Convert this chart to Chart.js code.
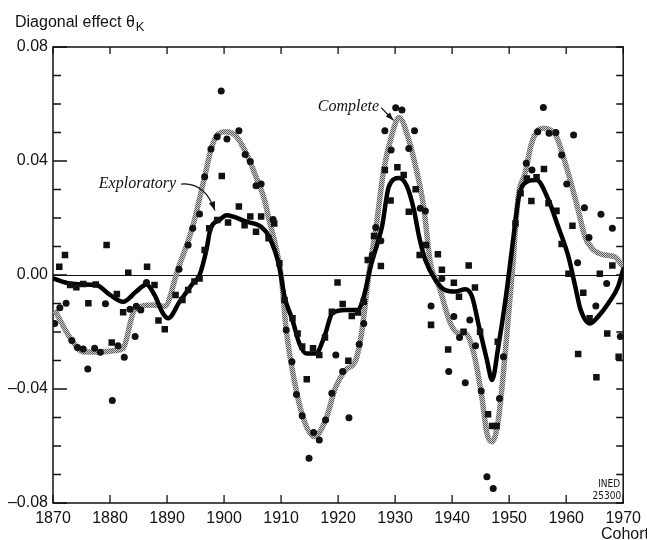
<!DOCTYPE html>
<html>
<head>
<meta charset="utf-8">
<script src="https://cdn.jsdelivr.net/npm/chart.js@4/dist/chart.umd.min.js"></script>
<style>
  html, body { margin: 0; padding: 0; background: #fff; }
  #wrap { width: 647px; height: 540px; }
</style>
</head>
<body>
<div id="wrap"><canvas id="chart" width="647" height="540"></canvas></div>
<script>
// cohort ticks
const xTicks = [1870, 1880, 1890, 1900, 1910, 1920, 1930, 1940, 1950, 1960, 1970];
const yTicks = [-0.08, -0.04, 0, 0.04, 0.08];

// smoothed curve, complete model (grey)
const completeCurveYears = [1870.3, 1873.3, 1875.3, 1878, 1881, 1882.3, 1884.3, 1887.5, 1889.6, 1891.9,
  1894.5, 1896.6, 1897.7, 1898.6, 1900.4, 1902, 1903.9, 1905.6, 1907.1, 1907.9, 1908.8, 1910,
  1910.9, 1912.3, 1913.8, 1915.8, 1917.8, 1919.6, 1921.3, 1923.1, 1924.2, 1925.4, 1926.6,
  1928, 1929.5, 1930.7, 1932.4, 1933.6, 1935, 1936.2, 1937.7, 1939.7, 1941.2, 1942.3, 1943.8,
  1945.2, 1946.1, 1947, 1948.1, 1949.3, 1950.5, 1951.6, 1952.8, 1953.9, 1955.1, 1956,
  1958.3, 1959.5, 1960.7, 1962.1, 1963.3, 1964.8, 1966.8, 1968.5, 1970];
const completeCurve = [-0.0123, -0.023, -0.027, -0.027, -0.0265, -0.0257, -0.0123, -0.0105, -0.011, 0.002,
  0.017, 0.0345, 0.0439, 0.0485, 0.0503, 0.049, 0.0427, 0.0345, 0.0263, 0.0193, 0.0123, 0,
  -0.0193, -0.0368, -0.0497, -0.0567, -0.0509, -0.0392, -0.0333, -0.0298, -0.0193, 0.0007, 0.0158,
  0.0368, 0.0497, 0.0553, 0.0474, 0.038, 0.024, 0.004, -0.004, -0.017, -0.0205, -0.0205, -0.0275,
  -0.0427, -0.0556, -0.0585, -0.0509, -0.0275, 0, 0.0275, 0.0357, 0.046, 0.0509, 0.0515,
  0.0485, 0.0415, 0.0333, 0.0228, 0.0134, 0.0088, 0.007, 0.0064, 0.0029];

// smoothed curve, exploratory model (black)
const explorCurveYears = [1870, 1873, 1875.3, 1877.6, 1880, 1882.3, 1884.6, 1886.4, 1887.8, 1889.3, 1890.2,
  1892.2, 1894.5, 1895.7, 1896.9, 1897.6, 1899.2, 1900.4, 1903.9, 1906.5, 1907.9, 1909.7, 1910.6,
  1912, 1913.2, 1914.4, 1916.1, 1917.6, 1919, 1921.3, 1923.4, 1924.5, 1925.7, 1926.9, 1927.7,
  1928.9, 1930.7, 1932.1, 1933.3, 1934.2, 1935.3, 1937.1, 1938.8, 1940.6, 1942.3, 1943.5, 1944.7,
  1946.1, 1947, 1948.1, 1949.3, 1950.3, 1951.1, 1951.7, 1953.1, 1954.8, 1956.9, 1958.6, 1960.4,
  1961.6, 1962.5, 1964.2, 1965.6, 1967.4, 1969.1, 1970];
const explorCurve = [-0.0012, -0.003, -0.0033, -0.0035, -0.007, -0.0094, -0.0058, -0.0033, -0.007, -0.0135, -0.0152,
  -0.0094, -0.003, 0, 0.0088, 0.016, 0.0193, 0.021, 0.0187, 0.0169, 0.0134, 0.0029, -0.0076,
  -0.0158, -0.024, -0.0275, -0.0275, -0.0216, -0.0134, -0.0123, -0.0123, -0.0076, 0.0029, 0.0111, 0.017,
  0.031, 0.034, 0.031, 0.0228, 0.0135, 0.0053, -0.0018, -0.0053, -0.0058, -0.005, -0.0076, -0.018,
  -0.0298, -0.0368, -0.0251, -0.0095, 0.006, 0.019, 0.0275, 0.0327, 0.0333, 0.0263, 0.0169, 0.0064,
  -0.0041, -0.012, -0.017, -0.0146, -0.0099, -0.0041, 0.002];

// estimated effects, complete model (circles)
const completeYears = [1870.3, 1871.2, 1872.3, 1873.3, 1874.3, 1875.3, 1876.1, 1877.3, 1878.3, 1879.2,
  1880.4, 1881.4, 1882.5, 1883.5, 1884.4, 1884.6, 1885.4, 1886.4, 1892.1, 1893.7, 1894.5, 1895.7,
  1896.6, 1897.7, 1898.8, 1899.5, 1900.5, 1902.6, 1903.7, 1904.6, 1905.6, 1906.5, 1908.6, 1910.9,
  1911.9, 1912.7, 1913.7, 1914.9, 1915.7, 1916.7, 1917.8, 1918.9, 1919.6, 1920.8, 1921.9, 1923.7,
  1924.5, 1926, 1926.6, 1927.5, 1928.2, 1929.3, 1930.1, 1931.2, 1932.4, 1933.4, 1934.4, 1935.3,
  1936.3, 1938.2, 1939.4, 1940.3, 1941.3, 1942.3, 1943.1, 1944.1, 1945.1, 1946.1, 1947.2, 1948.3,
  1949, 1953, 1954, 1955, 1956, 1957, 1958.2, 1959.2, 1960.1, 1961.3, 1962, 1963.2, 1964, 1965.2,
  1966.1, 1967.1, 1968.1, 1969.5];
const completeValues = [-0.017, -0.0115, -0.0099, -0.023, -0.0254, -0.026, -0.033, -0.0257, -0.0271, -0.0101,
  -0.044, -0.0248, -0.0289, -0.012, -0.0216, -0.011, -0.0123, -0.0026, 0.002, 0.0105, 0.0164, 0.0214,
  0.0345, 0.0442, 0.0485, 0.0646, 0.0477, 0.0506, 0.0423, 0.0398, 0.0313, 0.0319, 0.0195, -0.0193,
  -0.0304, -0.0419, -0.0494, -0.0643, -0.0553, -0.0579, -0.0509, -0.0415, -0.0281, -0.0339, -0.0501, -0.0243,
  -0.017, 0.007, 0.0167, 0.012, 0.0506, 0.0439, 0.0587, 0.0579, 0.0444, 0.0506, 0.0234, 0.0225,
  -0.0109, -0.0012, -0.0339, -0.0146, -0.0219, -0.0378, -0.0158, -0.0248, -0.0407, -0.0708, -0.0749, -0.0433,
  -0.0287, 0.0392, 0.0368, 0.0503, 0.0588, 0.0497, 0.05, 0.0421, 0.0319, 0.0491, 0.0043, 0.0236, 0.0132, -0.0109,
  0.0213, -0.003, 0.0164, -0.0216];

// estimated effects, exploratory model (squares)
const explorYears = [1871.1, 1872.1, 1873, 1874.1, 1875.3, 1876.2, 1877.5, 1879.4, 1880.3, 1881.2, 1882.3,
  1883.2, 1886.5, 1887.8, 1888.5, 1889.6, 1891.5, 1892.7, 1893.7, 1894.8, 1895.7, 1896.6, 1897.4,
  1898.8, 1899.6, 1900.7, 1902.6, 1903.6, 1904.6, 1905.6, 1906.5, 1907.8, 1908.8, 1909.7, 1910.6,
  1912, 1912.9, 1913.7, 1914.5, 1915.6, 1916.7, 1917.7, 1918.9, 1919.9, 1920.8, 1921.8, 1922.4,
  1923.5, 1924.5, 1925.2, 1926.3, 1927.5, 1928.2, 1929.2, 1930.4, 1931.5, 1932.4, 1933.6, 1934.3,
  1935.4, 1936.3, 1937.5, 1938.2, 1939.3, 1940.3, 1941.2, 1942, 1942.9, 1944, 1944.9, 1946.3,
  1947, 1947.8, 1948, 1951.1, 1952, 1953.1, 1953.9, 1954.8, 1956.1, 1956.9, 1958.3, 1959.2,
  1960.4, 1961.1, 1962.1, 1963, 1964.1, 1965.3, 1965.9, 1967.2, 1968.1, 1969.2];
const explorValues = [0.0029, 0.007, -0.0035, -0.0043, -0.0032, -0.0099, -0.0033, 0.0105, -0.0237, -0.0067, -0.0131,
  0.0008, 0.0029, -0.0035, -0.016, -0.019, -0.007, -0.0088, -0.0053, -0.0023, -0.0012, 0.0088, 0.0164,
  0.0193, 0.0347, 0.0184, 0.024, 0.0175, 0.0205, 0.0152, 0.0205, 0.0129, 0.0181, 0.0041, -0.0088,
  -0.0152, -0.0205, -0.0251, -0.0366, -0.0257, -0.0281, -0.0219, -0.0129, -0.0026, -0.0102, -0.0301, -0.0144,
  -0.0132, -0.0094, 0.0053, 0.0137, 0.0032, 0.0368, 0.0261, 0.0378, 0.0351, 0.0222, 0.0301, 0.007,
  0.0105, -0.0175, 0.0073, 0.0018, -0.0261, -0.0027, -0.0076, -0.0199, 0.0033, -0.0044, -0.0199, -0.0489,
  -0.053, -0.053, -0.0234, 0.0181, 0.0287, 0.0339, 0.026, 0.0343, 0.0372, 0.0252, 0.0225, 0.0109,
  0.0004, 0.0173, -0.0277, -0.0062, -0.0152, -0.0359, 0.0004, -0.0205, 0.0033, -0.0287];

const pts = (xs, ys) => xs.map((x, i) => ({ x: x, y: ys[i] }));

const SANS = '"Liberation Sans", Arial, sans-serif';
const SERIF = '"Liberation Serif", "Times New Roman", serif';

function fmtY(v) {
  if (Math.abs(v) < 1e-9) return '0.00';
  const s = Math.abs(v).toFixed(2);
  return v < 0 ? '\u2013' + s : s;
}

// dithered grey, like the printed screen of the original
function hatch() {
  const c = document.createElement('canvas');
  c.width = 4; c.height = 4;
  const g = c.getContext('2d');
  g.fillStyle = '#cfcfcf';
  g.fillRect(0, 0, 4, 4);
  g.fillStyle = '#5a5a5a';
  for (let i = 0; i < 4; i++) {
    g.fillRect(i, i, 1, 1);
    g.fillRect((i + 2) % 4, i, 1, 1);
  }
  return g.createPattern(c, 'repeat');
}

function arrowHead(ctx, x, y, ang, len, wid) {
  ctx.beginPath();
  ctx.moveTo(x, y);
  ctx.lineTo(x - len * Math.cos(ang) + wid * Math.sin(ang), y - len * Math.sin(ang) - wid * Math.cos(ang));
  ctx.lineTo(x - len * Math.cos(ang) - wid * Math.sin(ang), y - len * Math.sin(ang) + wid * Math.cos(ang));
  ctx.closePath();
  ctx.fill();
}

// frame, inward ticks and zero line
const framePlugin = {
  id: 'frame',
  beforeDatasetsDraw(chart) {
    const ctx = chart.ctx, a = chart.chartArea;
    const xs = chart.scales.x, ys = chart.scales.y;
    ctx.save();
    ctx.strokeStyle = '#111';
    ctx.lineWidth = 1;
    const y0 = Math.round(ys.getPixelForValue(0)) + 0.5;
    ctx.beginPath();
    ctx.moveTo(a.left, y0);
    ctx.lineTo(a.right, y0);
    ctx.stroke();

    ctx.lineWidth = 1.5;
    ctx.strokeRect(a.left, a.top, a.right - a.left, a.bottom - a.top);

    ctx.lineWidth = 1.3;
    ctx.beginPath();
    xTicks.forEach(t => {
      const px = xs.getPixelForValue(t);
      ctx.moveTo(px, a.top); ctx.lineTo(px, a.top + 7);
      ctx.moveTo(px, a.bottom); ctx.lineTo(px, a.bottom - 8);
    });
    for (let k = -8; k <= 8; k++) {
      const py = ys.getPixelForValue(k / 100);
      const major = k % 4 === 0;
      ctx.moveTo(a.left, py); ctx.lineTo(a.left + (major ? 14 : 8), py);
      ctx.moveTo(a.right, py); ctx.lineTo(a.right - 7, py);
    }
    ctx.stroke();
    ctx.restore();
  },
  afterDraw(chart) {
    const ctx = chart.ctx, a = chart.chartArea;
    const xs = chart.scales.x, ys = chart.scales.y;
    ctx.save();
    ctx.fillStyle = '#111';
    ctx.strokeStyle = '#111';

    // axis title
    ctx.font = '16px ' + SANS;
    ctx.textBaseline = 'alphabetic';
    ctx.textAlign = 'left';
    const t = 'Diagonal effect \u03b8';
    ctx.fillText(t, 15, 27);
    const tw = ctx.measureText(t).width;
    ctx.font = '13px ' + SANS;
    ctx.fillText('K', 16 + tw, 31);

    ctx.font = '16px ' + SANS;
    ctx.textBaseline = 'top';
    ctx.fillText('Cohort', 601, 527);

    // source mark
    ctx.font = '10px "DejaVu Sans Condensed", ' + SANS;
    ctx.textAlign = 'right';
    ctx.fillText('INED', a.right - 3, a.bottom - 24);
    ctx.fillText('25300', a.right - 2, a.bottom - 12);

    // annotations
    ctx.font = 'italic 16px ' + SERIF;
    ctx.textAlign = 'right';
    ctx.textBaseline = 'middle';
    const cx = xs.getPixelForValue(1927.2), cy = ys.getPixelForValue(0.0591);
    ctx.fillText('Complete', cx, cy);
    const ex = xs.getPixelForValue(1891.6), ey = ys.getPixelForValue(0.0319);
    ctx.fillText('Exploratory', ex, ey);

    ctx.lineWidth = 1.2;
    // short arrow to grey peak
    const ax0 = cx + 2, ay0 = cy + 1;
    const ax1 = xs.getPixelForValue(1929.7), ay1 = ys.getPixelForValue(0.0543);
    ctx.beginPath(); ctx.moveTo(ax0, ay0); ctx.lineTo(ax1, ay1); ctx.stroke();
    arrowHead(ctx, ax1, ay1, Math.atan2(ay1 - ay0, ax1 - ax0), 8, 3);

    // curved arrow to black curve
    const bx0 = ex + 5, by0 = ey;
    const bx1 = xs.getPixelForValue(1898.4), by1 = ys.getPixelForValue(0.0226);
    const qx = bx1 - 10, qy = by0 - 2;
    ctx.beginPath(); ctx.moveTo(bx0, by0); ctx.quadraticCurveTo(qx, qy, bx1, by1); ctx.stroke();
    arrowHead(ctx, bx1, by1, Math.atan2(by1 - qy, bx1 - qx), 9, 3.2);
    ctx.restore();
  }
};

new Chart(document.getElementById('chart'), {
  type: 'scatter',
  data: {
    datasets: [
      {
        label: 'Complete points',
        data: pts(completeYears, completeValues),
        pointStyle: 'circle', pointRadius: 3.5,
        backgroundColor: '#111', borderColor: '#111', borderWidth: 0,
        order: 0
      },
      {
        label: 'Exploratory points',
        data: pts(explorYears, explorValues),
        pointStyle: 'rect', pointRadius: 4.6,
        backgroundColor: '#111', borderColor: '#111', borderWidth: 0,
        order: 0
      },
      {
        type: 'line',
        label: 'Exploratory',
        data: pts(explorCurveYears, explorCurve),
        borderColor: '#000', borderWidth: 4.5,
        cubicInterpolationMode: 'monotone', pointRadius: 0,
        borderCapStyle: 'round', borderJoinStyle: 'round',
        order: 1
      },
      {
        type: 'line',
        label: 'Complete',
        data: pts(completeCurveYears, completeCurve),
        borderColor: hatch(), borderWidth: 5.5,
        cubicInterpolationMode: 'monotone', pointRadius: 0,
        order: 2
      }
    ]
  },
  options: {
    responsive: false,
    animation: false,
    layout: { padding: { top: 47, right: 22, left: 0, bottom: 0 } },
    plugins: { legend: { display: false }, tooltip: { enabled: false } },
    scales: {
      x: {
        type: 'linear', min: 1870, max: 1970,
        afterFit: s => { s.height = 37; },
        afterBuildTicks: s => { s.ticks = xTicks.map(v => ({ value: v })); },
        grid: { display: false, drawTicks: false }, border: { display: false },
        ticks: { color: '#111', font: { family: SANS, size: 16 }, padding: 6, maxRotation: 0,
          callback: v => String(v) }
      },
      y: {
        type: 'linear', min: -0.08, max: 0.08,
        afterFit: s => { s.width = 53; },
        afterBuildTicks: s => { s.ticks = yTicks.map(v => ({ value: v })); },
        grid: { display: false, drawTicks: false }, border: { display: false },
        ticks: { color: '#111', font: { family: SANS, size: 16 }, padding: 5,
          callback: v => fmtY(v) }
      }
    }
  },
  plugins: [framePlugin]
});
</script>
</body>
</html>
